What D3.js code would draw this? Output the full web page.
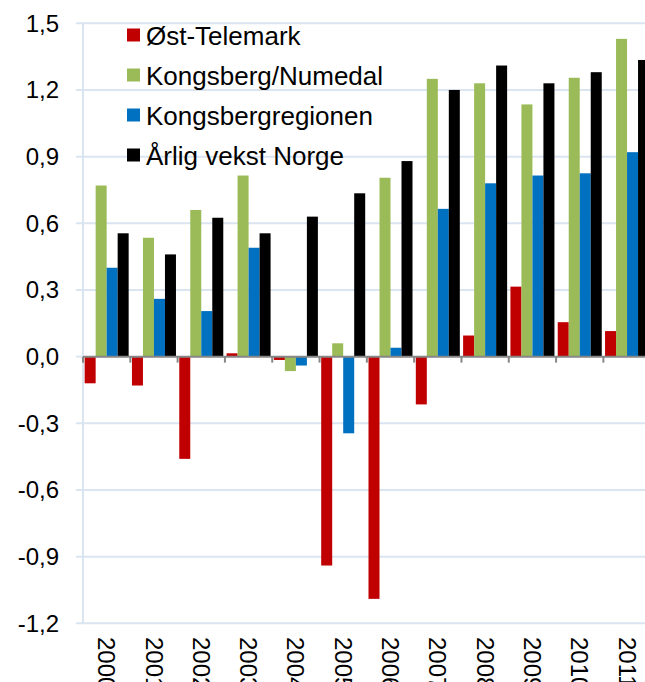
<!DOCTYPE html>
<html>
<head>
<meta charset="utf-8">
<script src="https://cdn.jsdelivr.net/npm/d3@7"></script>
<style>
  body { margin: 0; background: #fff; }
  svg { display: block; font-family: "Liberation Sans", Arial, sans-serif; }
</style>
</head>
<body>
<div id="chart"></div>
<script>
var years = ['2000','2001','2002','2003','2004','2005','2006','2007','2008','2009','2010','2011'];
var seriesNames = ['Øst-Telemark', 'Kongsberg/Numedal', 'Kongsbergregionen', 'Årlig vekst Norge'];
var seriesColors = ['#c00000', '#9bbb59', '#0070c0', '#000000'];

var ostTelemark       = [-0.12, -0.13, -0.46, 0.015, -0.015, -0.94, -1.09, -0.215, 0.095, 0.315, 0.155, 0.115];
var kongsbergNumedal  = [0.77, 0.535, 0.66, 0.815, -0.065, 0.06, 0.805, 1.25, 1.23, 1.135, 1.255, 1.43];
var kongsbergregionen = [0.40, 0.26, 0.205, 0.49, -0.04, -0.345, 0.04, 0.665, 0.78, 0.815, 0.825, 0.92];
var vekstNorge        = [0.555, 0.46, 0.625, 0.555, 0.63, 0.735, 0.88, 1.20, 1.31, 1.23, 1.28, 1.335];

var yTicks = [-1.2, -0.9, -0.6, -0.3, 0, 0.3, 0.6, 0.9, 1.2, 1.5];

var allSeries = [ostTelemark, kongsbergNumedal, kongsbergregionen, vekstNorge];

(function() {

  var width = 645, height = 682;
  var plotLeft = 83, plotRight = 650.7, plotTop = 23.3, plotBottom = 623.3;

  var svg = d3.select('#chart').append('svg')
      .attr('width', width)
      .attr('height', height);

  var y = d3.scaleLinear().domain([-1.2, 1.5]).range([plotBottom, plotTop]);
  var x = d3.scaleBand().domain(years).range([plotLeft, plotRight]).paddingInner(0).paddingOuter(0);
  var xInner = d3.scaleBand().domain(d3.range(4))
      .range([0, x.bandwidth()]).paddingOuter(0.15).paddingInner(0);

  // gridlines
  svg.append('g').selectAll('line')
      .data(yTicks.filter(function(t) { return t !== 0; }))
    .enter().append('line')
      .attr('x1', 76).attr('x2', width)
      .attr('y1', function(d) { return y(d); })
      .attr('y2', function(d) { return y(d); })
      .attr('stroke', '#dbe5f1')
      .attr('stroke-width', 2);

  // left axis line
  svg.append('line')
      .attr('x1', plotLeft).attr('x2', plotLeft)
      .attr('y1', y(1.5)).attr('y2', y(-1.2))
      .attr('stroke', '#dbe5f1')
      .attr('stroke-width', 2);
  svg.append('line')
      .attr('x1', 76).attr('x2', plotLeft)
      .attr('y1', y(0)).attr('y2', y(0))
      .attr('stroke', '#dbe5f1')
      .attr('stroke-width', 2);

  // y labels
  svg.append('g').selectAll('text')
      .data(yTicks)
    .enter().append('text')
      .attr('x', 59)
      .attr('y', function(d) { return y(d); })
      .attr('dy', '0.35em')
      .attr('text-anchor', 'end')
      .attr('font-size', 24)
      .attr('fill', '#000')
      .text(function(d) { return d3.format('.1f')(d).replace('.', ',').replace('−', '-'); });

  // bars
  var groups = svg.append('g').selectAll('g')
      .data(years)
    .enter().append('g')
      .attr('transform', function(d) { return 'translate(' + x(d) + ',0)'; });

  groups.selectAll('rect')
      .data(function(d, i) { return allSeries.map(function(s, k) { return {k: k, v: s[i]}; }); })
    .enter().append('rect')
      .attr('x', function(d) { return xInner(d.k); })
      .attr('width', xInner.bandwidth())
      .attr('y', function(d) { return y(Math.max(0, d.v)); })
      .attr('height', function(d) { return Math.abs(y(d.v) - y(0)); })
      .attr('fill', function(d) { return seriesColors[d.k]; });

  // zero axis with ticks
  svg.append('line')
      .attr('x1', plotLeft).attr('x2', width)
      .attr('y1', y(0)).attr('y2', y(0))
      .attr('stroke', '#868686')
      .attr('stroke-width', 2);
  svg.append('g').selectAll('line')
      .data(years)
    .enter().append('line')
      .attr('x1', function(d) { return x(d); })
      .attr('x2', function(d) { return x(d); })
      .attr('y1', y(0)).attr('y2', y(0) + 6)
      .attr('stroke', '#868686')
      .attr('stroke-width', 2);

  // x labels, rotated
  svg.append('g').selectAll('text')
      .data(years)
    .enter().append('text')
      .attr('transform', function(d) {
        return 'translate(' + (x(d) + x.bandwidth() / 2) + ',637) rotate(90)';
      })
      .attr('dy', '0.35em')
      .attr('font-size', 24)
      .attr('fill', '#000')
      .text(function(d) { return d; });

  // legend
  var legend = svg.append('g').selectAll('g')
      .data(seriesNames)
    .enter().append('g')
      .attr('transform', function(d, i) { return 'translate(127,' + (35 + i * 40) + ')'; });
  legend.append('rect')
      .attr('x', 0).attr('y', -6.5)
      .attr('width', 13).attr('height', 13)
      .attr('fill', function(d, i) { return seriesColors[i]; });
  legend.append('text')
      .attr('x', 19)
      .attr('y', 10)
      .attr('font-size', 26)
      .attr('fill', '#000')
      .text(function(d) { return d; });

})();
</script>
</body>
</html>
